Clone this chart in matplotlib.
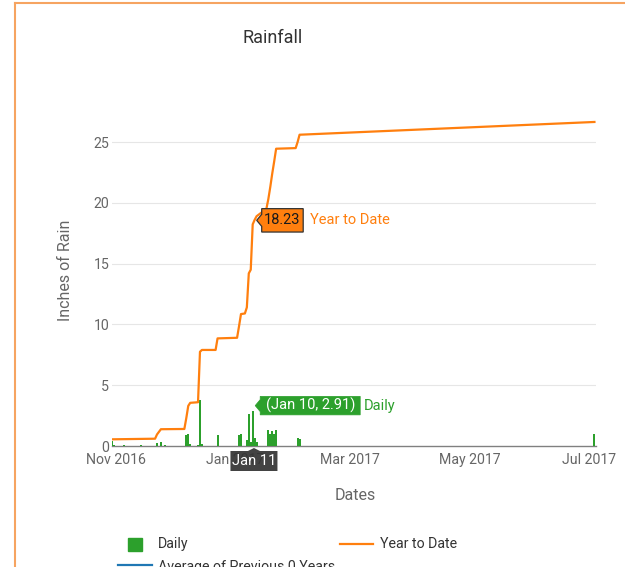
import matplotlib
matplotlib.use('Agg')
import matplotlib.pyplot as plt
import matplotlib.dates as mdates
from matplotlib.patches import Polygon, Rectangle
from matplotlib.lines import Line2D
from matplotlib.transforms import IdentityTransform
import datetime as dt

# ---------------- data ----------------
daily_dates = ['2016-10-30', '2016-10-31', '2016-11-05', '2016-11-14', '2016-11-22',
               '2016-11-24', '2016-11-26', '2016-12-07', '2016-12-08', '2016-12-09',
               '2016-12-13', '2016-12-14', '2016-12-15', '2016-12-23', '2017-01-03',
               '2017-01-04', '2017-01-07', '2017-01-08', '2017-01-09', '2017-01-10',
               '2017-01-11', '2017-01-12', '2017-01-18', '2017-01-19', '2017-01-20',
               '2017-01-21', '2017-01-22', '2017-02-02', '2017-02-03', '2017-07-04']
daily_values = [0.38, 0.12, 0.05, 0.05, 0.25,
                0.30, 0.10, 0.93, 0.95, 0.15,
                0.05, 3.78, 0.20, 0.87, 0.93,
                1.00, 0.46, 2.60, 0.30, 2.91,
                0.68, 0.33, 1.28, 1.00, 1.20,
                1.00, 1.28, 0.62, 0.55, 0.98]

ytd_dates = ['2016-10-30', '2016-11-21', '2016-11-22', '2016-11-24', '2016-12-06',
             '2016-12-07', '2016-12-08', '2016-12-09', '2016-12-13', '2016-12-14',
             '2016-12-15', '2016-12-22', '2016-12-23', '2017-01-02', '2017-01-03',
             '2017-01-04', '2017-01-06', '2017-01-07', '2017-01-08', '2017-01-09',
             '2017-01-10', '2017-01-11', '2017-01-12', '2017-01-17', '2017-01-18',
             '2017-01-19', '2017-01-20', '2017-01-21', '2017-01-22', '2017-02-01',
             '2017-02-02', '2017-02-03', '2017-07-04']
ytd_values = [0.55, 0.60, 0.95, 1.38, 1.40,
              2.30, 3.30, 3.55, 3.60, 7.75,
              7.90, 7.90, 8.85, 8.90, 9.85,
              10.85, 10.90, 11.40, 14.20, 14.50,
              18.23, 18.60, 18.90, 19.50, 20.30,
              21.30, 22.40, 23.40, 24.45, 24.50,
              25.00, 25.60, 26.65]

x_ticks = ['2016-11-01', '2017-01-01', '2017-03-01', '2017-05-01', '2017-07-01']
y_ticks = [0, 5, 10, 15, 20, 25]

tip_date = '2017-01-10'
tip_daily = 2.91
tip_ytd = 18.23
cross_date = '2017-01-11'

GREEN = '#2ca02c'
ORANGE = '#ff7f0e'
BLUE = '#1f77b4'

def d(s):
    return dt.datetime.strptime(s, '%Y-%m-%d')

plt.rcParams['font.family'] = ['Roboto', 'DejaVu Sans']

W, H = 625, 567
fig = plt.figure(figsize=(W / 100, H / 100), dpi=100)
fig.patch.set_facecolor('white')

# axes placement (pixels from top-left)
L, R, B, T = 112, 596, 446, 94
ax = fig.add_axes([L / W, (H - B) / H, (R - L) / W, (B - T) / H])

ymax = 28.95
x0 = mdates.date2num(d('2016-11-01')) - 2.05
x1 = mdates.date2num(d('2016-11-01')) + 245.8

ax.bar([d(s) for s in daily_dates], daily_values, width=1.0, color=GREEN,
       align='center', zorder=3, linewidth=0)
ax.plot([d(s) for s in ytd_dates], ytd_values, color=ORANGE, lw=1.6,
        zorder=4, solid_joinstyle='round')

ax.set_xlim(x0, x1)
ax.set_ylim(0, ymax)
ax.set_yticks(y_ticks)
ax.set_xticks([d(s) for s in x_ticks])
ax.xaxis.set_major_formatter(mdates.DateFormatter('%b %Y'))

for sp in ['top', 'right', 'left']:
    ax.spines[sp].set_visible(False)
ax.spines['bottom'].set_color('#808080')
ax.spines['bottom'].set_linewidth(1.0)
ax.spines['bottom'].set_zorder(2)

ax.grid(axis='y', color='#e6e6e6', lw=0.8, zorder=0)
ax.set_axisbelow(True)
ax.tick_params(axis='both', length=0, labelsize=10.2, labelcolor='#666666')
ax.tick_params(axis='x', pad=5)
ax.tick_params(axis='y', pad=2)
gl = ax.get_ygridlines()
gl[0].set_visible(False)

# text labels
def ftxt(x, y, s, **kw):
    fig.text(x / W, (H - y) / H, s, **kw)

ftxt(273, 38, 'Rainfall', ha='center', va='center', fontsize=13, color='#333333')
ftxt(65, 270, 'Inches of Rain', ha='center', va='center', rotation=90,
     fontsize=11.5, color='#666666')
ftxt(355, 495, 'Dates', ha='center', va='center', fontsize=11.5, color='#666666')

# legend
fig.add_artist(Rectangle((128 / W, (H - 551) / H), 14 / W, 13 / H,
                         transform=fig.transFigure, color=GREEN))
ftxt(158, 544, 'Daily', ha='left', va='center', fontsize=10.2, color='#333333')
fig.add_artist(Line2D([340 / W, 373 / W], [(H - 544) / H] * 2,
                      transform=fig.transFigure, color=ORANGE, lw=1.6))
ftxt(380, 544, 'Year to Date', ha='left', va='center', fontsize=10.2, color='#333333')
fig.add_artist(Line2D([118 / W, 152 / W], [(H - 565) / H] * 2,
                      transform=fig.transFigure, color=BLUE, lw=1.6))
ftxt(158, 567, 'Average of Previous 0 Years', ha='left', va='center',
     fontsize=10.2, color='#333333')

# orange chart border (top + left)
bc = '#f6a461'
fig.add_artist(Line2D([15 / W, 1.0], [(H - 3) / H] * 2, transform=fig.transFigure,
                      color=bc, lw=1.5))
fig.add_artist(Line2D([15 / W, 15 / W], [0, (H - 3) / H], transform=fig.transFigure,
                      color=bc, lw=1.5))

# ---------------- tooltips (anchored to data points, offsets in pixels) -------------
idt = IdentityTransform()

def callout(px, py, dx, w, h, fc, ec, lw, z):
    bx = px + dx
    pts = [(px, py), (bx, py + 6), (bx, py + h / 2), (bx + w, py + h / 2),
           (bx + w, py - h / 2), (bx, py - h / 2), (bx, py - 6)]
    fig.add_artist(Polygon(pts, closed=True, transform=idt, fc=fc, ec=ec, lw=lw,
                           zorder=z))
    return bx

tx = mdates.date2num(d(tip_date))
# YTD tooltip
px, py = ax.transData.transform((tx, tip_ytd))
px, py = px + 4, py + 4
bx = callout(px, py, 5, 41.5, 23.4, ORANGE, '#333333', 0.9, 10)
fig.text(bx + 20.8, py, f'{tip_ytd:.2f}', transform=idt, ha='center', va='center',
         fontsize=10.5, color='#1a1a1a', zorder=11)
fig.text(bx + 48, py, 'Year to Date', transform=idt, ha='left', va='center',
         fontsize=10.5, color=ORANGE, zorder=11)

# Daily tooltip
px, py = ax.transData.transform((tx, tip_daily))
px, py = px + 2.5, py + 5
bx = callout(px, py, 5, 100, 18.5, GREEN, GREEN, 0.5, 10)
fig.text(bx + 50, py, f'({d(tip_date).strftime("%b")} {d(tip_date).day}, {tip_daily:.2f})',
         transform=idt, ha='center', va='center', fontsize=10.5, color='white', zorder=11)
fig.text(bx + 104, py, 'Daily', transform=idt, ha='left', va='center',
         fontsize=10.5, color=GREEN, zorder=11)

# crosshair label
cx = mdates.date2num(d(cross_date))
qx, qy = ax.transData.transform((cx, 0))
qx -= 0.7
top = qy - 5
pts = [(qx, qy - 2), (qx + 6, top), (qx + 23.5, top), (qx + 23.5, top - 20),
       (qx - 23.5, top - 20), (qx - 23.5, top), (qx - 6, top)]
fig.add_artist(Polygon(pts, closed=True, transform=idt, fc='#333333', ec='none',
                       alpha=0.92, zorder=10))
cd = d(cross_date)
fig.text(qx, top - 10, f'{cd.strftime("%b")} {cd.day}', transform=idt, ha='center',
         va='center', fontsize=10.5, color='white', zorder=11)

fig.savefig('out.png', dpi=100)
